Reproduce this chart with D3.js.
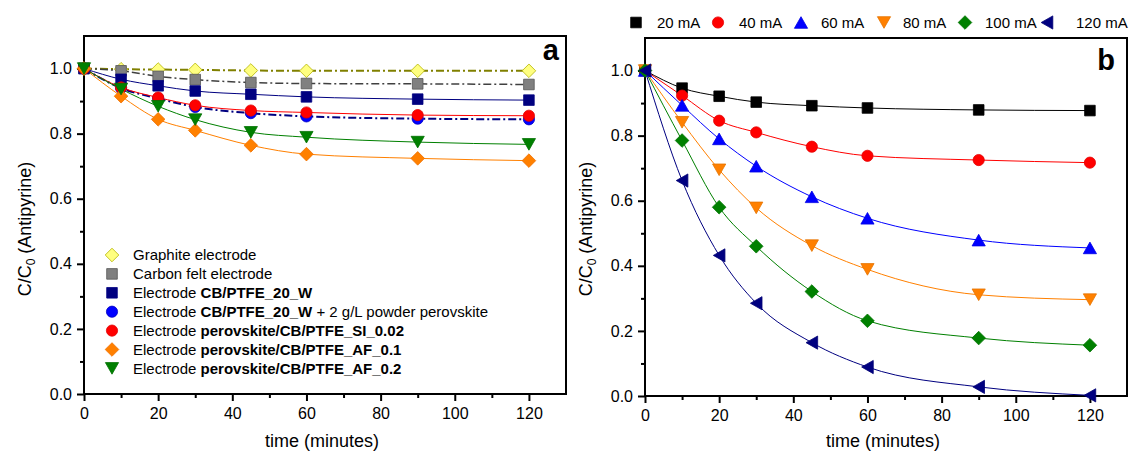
<!DOCTYPE html>
<html>
<head>
<meta charset="utf-8">
<title>Antipyrine removal</title>
<script src="https://d3js.org/d3.v7.min.js"></script>
<style>
  body { margin: 0; background: #fff; }
  text { font-family: "Liberation Sans", Arial, sans-serif; }
</style>
</head>
<body>
<div id="viz"></div>
<script>

// sampling times (minutes)
var times = [0, 10, 20, 30, 45, 60, 90, 120];

// panel a : C/C0 for each electrode
var graphite    = [1.0, 0.998, 0.997, 0.996, 0.994, 0.993, 0.993, 0.993];
var carbonFelt  = [1.0, 0.993, 0.976, 0.966, 0.957, 0.954, 0.953, 0.951];
var cbPtfe      = [1.0, 0.967, 0.947, 0.931, 0.921, 0.913, 0.906, 0.903];
var cbPtfePowder= [1.0, 0.940, 0.908, 0.882, 0.863, 0.853, 0.846, 0.844];
var perovSI     = [1.0, 0.942, 0.911, 0.887, 0.871, 0.865, 0.857, 0.855];
var perovAF01   = [1.0, 0.915, 0.844, 0.810, 0.764, 0.737, 0.724, 0.717];
var perovAF02   = [1.0, 0.937, 0.884, 0.843, 0.804, 0.789, 0.774, 0.767];

// legend text: [plain, bold, plain]
var namesA = [
  ["Graphite electrode", "", ""],
  ["Carbon felt electrode", "", ""],
  ["Electrode ", "CB/PTFE_20_W", ""],
  ["Electrode ", "CB/PTFE_20_W", " + 2 g/L powder perovskite"],
  ["Electrode ", "perovskite/CB/PTFE_SI_0.02", ""],
  ["Electrode ", "perovskite/CB/PTFE_AF_0.1", ""],
  ["Electrode ", "perovskite/CB/PTFE_AF_0.2", ""]
];

// panel b : C/C0 at each applied current
var currents = ["20 mA", "40 mA", "60 mA", "80 mA", "100 mA", "120 mA"];
var mA20  = [1.0, 0.946, 0.921, 0.903, 0.892, 0.885, 0.879, 0.877];
var mA40  = [1.0, 0.923, 0.846, 0.810, 0.766, 0.738, 0.725, 0.717];
var mA60  = [1.0, 0.893, 0.790, 0.706, 0.612, 0.546, 0.479, 0.455];
var mA80  = [1.0, 0.841, 0.695, 0.578, 0.462, 0.389, 0.311, 0.296];
var mA100 = [1.0, 0.785, 0.580, 0.460, 0.321, 0.231, 0.178, 0.156];
var mA120 = [1.0, 0.662, 0.432, 0.285, 0.164, 0.089, 0.028, 0.002];

var xTicks = [0, 20, 40, 60, 80, 100, 120],
    xMinor = [10, 30, 50, 70, 90, 110],
    yTicks = [0, 0.2, 0.4, 0.6, 0.8, 1.0],
    yMinor = [0.1, 0.3, 0.5, 0.7, 0.9];

// ---- styles ----
var stylesA = [
  {shape:"diamond", fill:"#ffff80", stroke:"#b4b400", line:"#808000", dash:"8,3,2,3", lw:2},
  {shape:"square",  fill:"#808080", stroke:"#555555", line:"#404040", dash:"8,3,2,3", lw:1.5},
  {shape:"square",  fill:"#000080", stroke:"#000080", line:"#000080", dash:null, lw:1},
  {shape:"circle",  fill:"#0000ff", stroke:"#0000c0", line:"#000080", dash:"8,3,2,3", lw:2},
  {shape:"circle",  fill:"#ff0000", stroke:"#e00000", line:"#ff0000", dash:null, lw:1},
  {shape:"diamond", fill:"#ff8000", stroke:"#f07000", line:"#ff8000", dash:null, lw:1},
  {shape:"down",    fill:"#008000", stroke:"#007000", line:"#008000", dash:null, lw:1}
];
var stylesB = [
  {shape:"square",  fill:"#000000", line:"#000000"},
  {shape:"circle",  fill:"#ff0000", line:"#ff0000"},
  {shape:"up",      fill:"#0000ff", line:"#0000ff"},
  {shape:"down",    fill:"#ff8000", line:"#ff8000"},
  {shape:"diamond", fill:"#008000", line:"#008000"},
  {shape:"left",    fill:"#000080", line:"#000080"}
];

function marker(shape) {
  switch (shape) {
    case "square":  return "M-5.3,-5.3H5.3V5.3H-5.3Z";
    case "circle":  return "M5.6,0A5.6,5.6 0 1,1 -5.6,0A5.6,5.6 0 1,1 5.6,0Z";
    case "diamond": return "M0,-6.8L6.8,0L0,6.8L-6.8,0Z";
    case "up":      return "M0,-5.8L6.6,5.8L-6.6,5.8Z";
    case "down":    return "M0,5.8L6.6,-5.8L-6.6,-5.8Z";
    case "left":    return "M-5.8,0L5.8,-6.6L5.8,6.6Z";
  }
}

var svg = d3.select("#viz").append("svg")
  .attr("width", 1129).attr("height", 452);

function panel(box, letter, letterPos, yTitleX) {
  var x = d3.scaleLinear().domain([0, 130]).range([box.left, box.right]);
  var y = d3.scaleLinear().domain([0, 1.1]).range([box.bottom, box.top]);
  var g = svg.append("g");

  function styleAxis(a) {
    a.select(".domain").remove();
    a.selectAll("line").attr("stroke-width", 2);
    a.selectAll("text").attr("font-size", 16).attr("fill", "#000")
      .attr("font-family", "Liberation Sans, Arial, sans-serif");
  }
  g.append("g").attr("transform", "translate(0," + box.bottom + ")")
    .call(d3.axisBottom(x).tickValues(xTicks).tickSize(7).tickPadding(7).tickFormat(d3.format("d")))
    .call(styleAxis);
  g.append("g").attr("transform", "translate(0," + box.bottom + ")")
    .call(d3.axisBottom(x).tickValues(xMinor).tickSize(4).tickFormat(""))
    .call(styleAxis);
  g.append("g").attr("transform", "translate(" + box.left + ",0)")
    .call(d3.axisLeft(y).tickValues(yTicks).tickSize(7).tickPadding(5).tickFormat(d3.format(".1f")))
    .call(styleAxis);
  g.append("g").attr("transform", "translate(" + box.left + ",0)")
    .call(d3.axisLeft(y).tickValues(yMinor).tickSize(4).tickFormat(""))
    .call(styleAxis);

  g.append("rect")
    .attr("x", box.left).attr("y", box.top)
    .attr("width", box.right - box.left).attr("height", box.bottom - box.top)
    .attr("fill", "none").attr("stroke", "#000").attr("stroke-width", 2);

  // axis titles
  g.append("text")
    .attr("x", (box.left + box.right) / 2 - 3).attr("y", 447)
    .attr("text-anchor", "middle").attr("font-size", 18)
    .text("time (minutes)");
  var yt = g.append("text")
    .attr("transform", "translate(" + yTitleX + "," + 229 + ") rotate(-90)")
    .attr("text-anchor", "middle").attr("font-size", 18);
  yt.append("tspan").text("C/C");
  yt.append("tspan").attr("font-size", 12).attr("dy", 4).text("0");
  yt.append("tspan").attr("dy", -4).text(" (Antipyrine)");

  g.append("text")
    .attr("x", letterPos[0]).attr("y", letterPos[1])
    .attr("text-anchor", "end").attr("font-size", 29).attr("font-weight", "bold")
    .text(letter);

  return {g: g, x: x, y: y};
}

function drawSeries(p, values, st) {
  var pts = times.map(function(t, i) { return {t: t, v: values[i]}; });
  var line = d3.line()
    .x(function(d) { return p.x(d.t); })
    .y(function(d) { return p.y(d.v); })
    .curve(d3.curveMonotoneX);
  p.g.append("path").datum(pts)
    .attr("fill", "none")
    .attr("stroke", st.line)
    .attr("stroke-width", st.lw || 1)
    .attr("stroke-dasharray", st.dash || null)
    .attr("d", line);
  return pts;
}

function drawMarkers(p, pts, st) {
  p.g.selectAll(null).data(pts).enter().append("path")
    .attr("transform", function(d) { return "translate(" + p.x(d.t) + "," + p.y(d.v) + ")"; })
    .attr("d", marker(st.shape))
    .attr("fill", st.fill)
    .attr("stroke", st.stroke || d3.color(st.fill).darker(0.3))
    .attr("stroke-width", 0.8);
}

// ---- panel a ----
var pa = panel({left: 84, right: 566, top: 36, bottom: 394}, "a", [559, 60], 31);
var seriesA = [graphite, carbonFelt, cbPtfe, cbPtfePowder, perovSI, perovAF01, perovAF02];
var ptsA = seriesA.map(function(s, i) { return drawSeries(pa, s, stylesA[i]); });
ptsA.forEach(function(pts, i) { drawMarkers(pa, pts, stylesA[i]); });

// legend a
namesA.forEach(function(nm, i) {
  var cy = 255 + i * 18.9;
  pa.g.append("path")
    .attr("transform", "translate(112," + cy + ")")
    .attr("d", marker(stylesA[i].shape))
    .attr("fill", stylesA[i].fill)
    .attr("stroke", stylesA[i].stroke).attr("stroke-width", 0.8);
  var t = pa.g.append("text").attr("x", 133).attr("y", cy + 5.3).attr("font-size", 15);
  t.append("tspan").text(nm[0]);
  if (nm[1]) t.append("tspan").attr("font-weight", "bold").text(nm[1]);
  if (nm[2]) t.append("tspan").text(nm[2]);
});

// ---- panel b ----
var pb = panel({left: 645, right: 1127, top: 38, bottom: 396}, "b", [1115, 70], 592);
var seriesB = [mA20, mA40, mA60, mA80, mA100, mA120];
var ptsB = seriesB.map(function(s, i) { return drawSeries(pb, s, stylesB[i]); });
ptsB.forEach(function(pts, i) { drawMarkers(pb, pts, stylesB[i]); });

// legend b (one row above the frame)
var legBX = [636, 718, 801, 884, 965, 1047],
    legBText = [657, 739, 821, 903, 985, 1076];
currents.forEach(function(c, i) {
  pb.g.append("path")
    .attr("transform", "translate(" + legBX[i] + ",22.5)")
    .attr("d", marker(stylesB[i].shape))
    .attr("fill", stylesB[i].fill)
    .attr("stroke", d3.color(stylesB[i].fill).darker(0.3)).attr("stroke-width", 0.8);
  pb.g.append("text").attr("x", legBText[i]).attr("y", 28)
    .attr("font-size", 15).text(c);
});

</script>
</body>
</html>
